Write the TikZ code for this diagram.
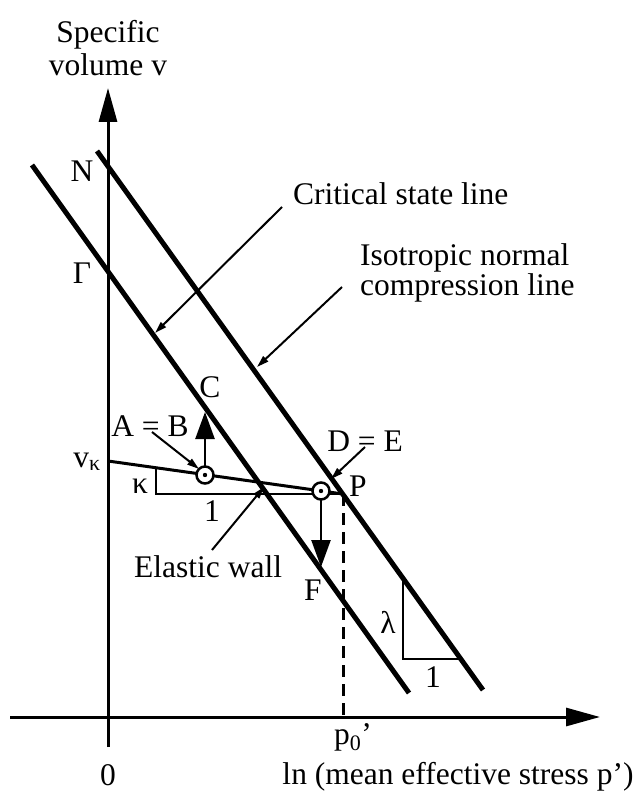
\documentclass[tikz,border=0pt]{standalone}
\usepackage{fontspec}
\setmainfont{Liberation Serif}
\usetikzlibrary{arrows.meta}
\begin{document}
\begin{tikzpicture}[x=1pt,y=-1pt,
  lbl/.style={inner sep=0pt, font=\fontsize{31.5}{33}\selectfont},
  thickline/.style={line width=5pt},
  axisline/.style={line width=3pt, -{Triangle[length=34pt,width=18pt]}},
  ptr/.style={line width=2pt, -{Triangle[length=12pt,width=7pt]}},
  bigarrow/.style={line width=2.5pt, -{Triangle[length=27pt,width=19pt]}},
  guide/.style={line width=1.5pt},
  klinestyle/.style={line width=3pt},
  dashline/.style={line width=3pt, dash pattern=on 12pt off 7pt},
  ring/.style={circle, draw, line width=2.5pt, fill=white, minimum size=17pt, inner sep=0pt}
]
\useasboundingbox (0,0) rectangle (637,791);

% axes
\coordinate (O) at (108,717);
\coordinate (ytop) at (108,88);
\coordinate (ybot) at (108,747);
\coordinate (xl) at (10,717);
\coordinate (xr) at (600,717);
\draw[axisline] (ybot) -- (ytop);
\draw[axisline] (xl) -- (xr);

% critical state line and normal compression line
\coordinate (csl1) at (32,165);
\coordinate (csl2) at (409,693);
\coordinate (ncl1) at (97,151);
\coordinate (ncl2) at (483,690);
\draw[thickline] (csl1) -- (csl2);
\draw[thickline] (ncl1) -- (ncl2);

% kappa line
\coordinate (vk) at (108,461);
\coordinate (P) at (343,494);
\draw[klinestyle] (vk) -- (P);

% kappa triangle
\coordinate (kt1) at (156,468);
\coordinate (kt2) at (156,494);
\draw[guide] (kt1) -- (kt2) -- (P);

% lambda triangle
\coordinate (lt1) at (403,579);
\coordinate (lt2) at (403,659);
\coordinate (lt3) at (460,659);
\draw[guide] (lt1) -- (lt2) -- (lt3);

% dashed p0 line
\coordinate (p0) at (343,717);
\draw[dashline] (P) -- (p0);

% thick arrows
\coordinate (Ctip) at (205,412);
\coordinate (Ftip) at (321,567);
\coordinate (Apos) at (205,475);
\coordinate (Dpos) at (321,491);
\draw[bigarrow] (Apos) -- (Ctip);
\draw[bigarrow] (Dpos) -- (Ftip);

% state markers
\node[ring] (A) at (Apos) {};
\fill (A.center) circle (2.2pt);
\node[ring] (D) at (Dpos) {};
\fill (D.center) circle (2.2pt);

% labels
\node[lbl, anchor=north, align=center] (ylab) at (108,20) {Specific\\volume v};
\node[lbl] (Nlab) at (82,171) {N};
\node[lbl] (Glab) at (82,273) {Γ};
\node[lbl, anchor=base west] (csllab) at (293,205) {Critical state line};
\node[lbl, anchor=north west, align=left, font=\fontsize{31.5}{27}\selectfont] (ncllab) at (360,243.5) {Isotropic normal\\compression line};
\node[lbl] (Clab) at (210,387) {C};
\node[lbl] (ABlab) at (150,426) {A = B};
\node[lbl] (DElab) at (365,441) {D = E};
\node[lbl] (Plab) at (358,486) {P};
\node[lbl] (klab) at (140,486) {κ};
\node[lbl] (onek) at (212,511) {1};
\node[lbl, anchor=base east] (vklab) at (101,467) {v\textsubscript{κ}};
\node[lbl, anchor=base west] (ewlab) at (134,577) {Elastic wall};
\node[lbl] (Flab) at (313,590) {F};
\node[lbl] (llab) at (388,622) {λ};
\node[lbl] (onel) at (433,677) {1};
\node[lbl, anchor=base west] (p0lab) at (334,744) {p\textsubscript{0}’};
\node[lbl] (zlab) at (108,775) {0};
\node[lbl] (xlab) at (458,777) {ln (mean effective stress p’)};

% pointers
\coordinate (cslp1) at (282,207);
\coordinate (cslp2) at (155,333);
\coordinate (nclp1) at (342,287);
\coordinate (nclp2) at (257,367);
\coordinate (abp1) at (152,432);
\coordinate (abp2) at (199,469);
\coordinate (dep1) at (365,447);
\coordinate (dep2) at (331,479);
\coordinate (ewp1) at (212,550);
\coordinate (ewp2) at (264,487);
\draw[ptr] (cslp1) -- (cslp2);
\draw[ptr] (nclp1) -- (nclp2);
\draw[ptr] (abp1) -- (abp2);
\draw[ptr] (dep1) -- (dep2);
\draw[ptr] (ewp1) -- (ewp2);
\end{tikzpicture}
\end{document}
